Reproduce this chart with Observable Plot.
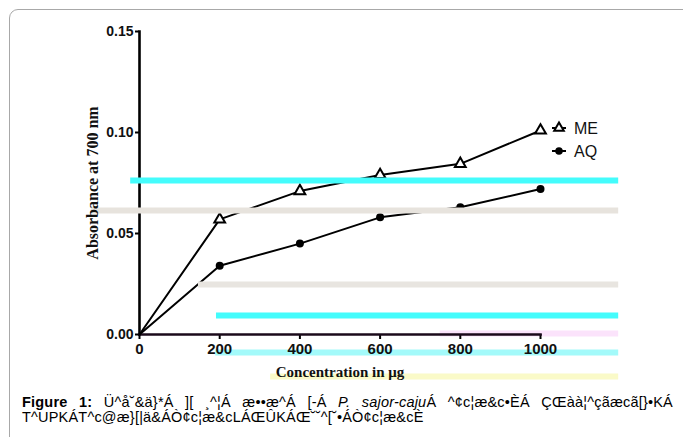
<!DOCTYPE html>
<html><head><meta charset="utf-8">
<script src="https://cdn.jsdelivr.net/npm/d3@7"></script>
<script src="https://cdn.jsdelivr.net/npm/@observablehq/plot@0.6"></script>
<style>
body{margin:0;background:#fff;}
#wrap{position:relative;width:683px;height:437px;overflow:hidden;font-family:"Liberation Sans",Arial,sans-serif;background:#fff;}
#border{position:absolute;left:9px;top:9px;width:720px;height:470px;border:1px solid #a8a8a8;border-radius:9px;box-sizing:border-box;}
#chart{position:absolute;left:0;top:0;}
#legend{position:absolute;left:544px;top:116px;}
#caption{position:absolute;left:22px;top:395px;font-size:14.5px;line-height:14.5px;white-space:nowrap;color:#000;letter-spacing:0.2px;}
#cap1{width:651px;text-align:justify;text-align-last:justify;}
</style></head>
<body>
<div id="wrap">
  <div id="border"></div>
  <div id="chart"></div>
  <div id="legend"></div>
  <div id="caption"></div>
</div>
<script>
// ---- data ----
const concentration = [0, 200, 400, 600, 800, 1000];
const meValues = [0, 0.057, 0.071, 0.079, 0.0845, 0.101];
const aqValues = [0, 0.034, 0.045, 0.058, 0.063, 0.072];
const seriesNames = ["ME", "AQ"];
const xTicks = [0, 200, 400, 600, 800, 1000];
const yTicks = [0, 0.05, 0.10, 0.15];
const yLabel = "Absorbance at 700 nm";
const xLabel = "Concentration in \u03bcg";
// scan artefact bands seen in the picture (y in absorbance, x in concentration)
const bandY  = [0.0762, 0.0614, 0.0248, 0.0094, -0.0089, -0.0208, 0.0005];
const bandX1 = [-22, -120, 147, 192, 190, 327, 750];
const bandX2 = [1195, 1195, 1195, 1195, 1195, 1195, 1195];
const bandColor = ["#44fcfc", "#e7e3dd", "#e8e5e0", "#44fcfc", "#a3fafa", "#fafac8", "#fbe3fb"];
const bandOver = [true, true, true, true, false, false, false];
const captionLead = "Figure 1:";
const captionA = " \u00dc^\u00e5\u02d8&\u00e4}*\u00c1 ][ \u00b8^\u00a6\u00c1 \u00e6\u2022\u2022\u00e6^\u00c1 [-\u00c1 ";
const captionItalic = "P. sajor-caju";
const captionB = "\u00c1 ^\u00a2c\u00a6\u00e6&c\u2022\u00c8\u00c1 \u00c7\u0152\u00e0\u00e0\u00a6^\u00e7\u00e3\u00e6c\u00e3[}\u2022K\u00c1";
const captionLine2 = "T^UPK\u00c1T^c@\u00e6}[|\u00e4&\u00c1\u00d2\u00a2c\u00a6\u00e6&cL\u00c1\u0152\u00dbK\u00c1\u0152\u02d8\u02d8^[\u02d8\u2022\u00c1\u00d2\u00a2c\u00a6\u00e6&c\u00c8";

// ---- build tables ----
const rows = [];
concentration.forEach((c, i) => {
  rows.push({series: "ME", x: c, y: meValues[i]});
  rows.push({series: "AQ", x: c, y: aqValues[i]});
});
const me = rows.filter(d => d.series === "ME");
const aq = rows.filter(d => d.series === "AQ");
const bands = bandY.map((y, i) => ({y, x1: bandX1[i], x2: bandX2[i], color: bandColor[i], over: bandOver[i]}));

const chart = Plot.plot({
  width: 683,
  height: 390,
  marginLeft: 139,
  marginRight: 143,
  marginTop: 31,
  marginBottom: 56,
  style: {background: "transparent", overflow: "visible"},
  x: {domain: [0, 1000]},
  y: {domain: [0, 0.15]},
  marks: [
    Plot.ruleY(bands.filter(d => !d.over), {y: "y", x1: "x1", x2: "x2", stroke: "color", strokeWidth: 6}),
    Plot.axisY({ticks: yTicks, tickFormat: d3.format(".2f"), tickSize: 4, tickPadding: 2,
      fontSize: 14, fontWeight: "bold", label: null, strokeWidth: 2, fill: "#111"}),
    Plot.axisX({ticks: xTicks, tickFormat: d => String(d), tickSize: 5, tickPadding: 4,
      fontSize: 15, fontWeight: "bold", label: null, strokeWidth: 2, fill: "#111"}),
    Plot.frame({anchor: "left", strokeWidth: 2.6, stroke: "#000"}),
    Plot.frame({anchor: "bottom", strokeWidth: 2.6, stroke: "#1a0a1a"}),
    Plot.line(me, {x: "x", y: "y", stroke: "#000", strokeWidth: 2}),
    Plot.line(aq, {x: "x", y: "y", stroke: "#000", strokeWidth: 2}),
    Plot.dot(me.filter(d => d.x > 0), {x: "x", y: "y", symbol: "triangle", r: 4, stroke: "#000", strokeWidth: 2, fill: "#fff"}),
    Plot.dot(aq.filter(d => d.x > 0), {x: "x", y: "y", symbol: "circle", r: 4, fill: "#000", stroke: "none"}),
    Plot.ruleY(bands.filter(d => d.over), {y: "y", x1: "x1", x2: "x2", stroke: "color", strokeWidth: 6}),
    Plot.text([yLabel], {frameAnchor: "left", textAnchor: "middle", dx: -47, rotate: -90, fontSize: 16, fontWeight: "bold",
      fontFamily: "'Liberation Serif', 'Times New Roman', serif", fill: "#111"}),
    Plot.text([xLabel], {frameAnchor: "bottom", textAnchor: "middle", dy: 42, fontSize: 15, fontWeight: "bold",
      fontFamily: "'Liberation Serif', 'Times New Roman', serif", fill: "#111"})
  ]
});
chart.style.fontFamily = "'Liberation Sans', Arial, sans-serif";
document.getElementById("chart").append(chart);

// ---- legend ----
const leg = d3.select("#legend").append("svg").attr("width", 80).attr("height", 50);
const symbols = {ME: d3.symbolTriangle, AQ: d3.symbolCircle};
seriesNames.forEach((name, i) => {
  const g = leg.append("g").attr("transform", `translate(0,${12 + i * 23})`);
  g.append("line").attr("x1", 8).attr("x2", 22).attr("stroke", "#000").attr("stroke-width", 2);
  g.append("path").attr("transform", "translate(15,0)")
    .attr("d", d3.symbol(symbols[name], name === "ME" ? 40 : 45)())
    .attr("fill", name === "ME" ? "#fff" : "#000").attr("stroke", "#000").attr("stroke-width", name === "ME" ? 2 : 0);
  g.append("text").attr("x", 30).attr("dy", "0.35em").attr("font-size", 16)
    .attr("font-family", "'Liberation Sans', Arial, sans-serif").attr("fill", "#111").text(name);
});

// ---- caption ----
const cap = d3.select("#caption");
const l1 = cap.append("div").attr("id", "cap1");
l1.append("b").text(captionLead);
l1.append("span").text(captionA);
l1.append("i").text(captionItalic);
l1.append("span").text(captionB);
cap.append("div").text(captionLine2);
</script>
</body></html>
